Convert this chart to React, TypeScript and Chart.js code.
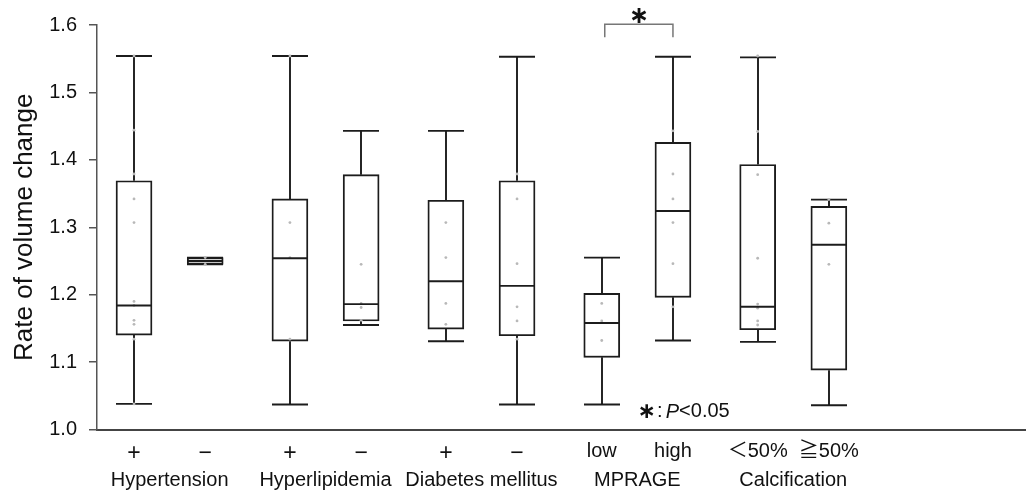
import React, { useEffect, useRef } from 'react';
import { Chart, registerables } from 'chart.js';

Chart.register(...registerables);

// ---- data ----
const groupNames = ['Hypertension', 'Hyperlipidemia', 'Diabetes mellitus', 'MPRAGE', 'Calcification'];
const memberLabels = ['+', '−', '+', '−', '+', '−', 'low', 'high', '＜50%', '≧50%'];
const yTicks = [1.0, 1.1, 1.2, 1.3, 1.4, 1.5, 1.6];

const whiskerMin = [1.038, 1.245, 1.037, 1.155, 1.131, 1.037, 1.037, 1.132, 1.130, 1.036];
const q1 = [1.140, 1.245, 1.131, 1.161, 1.149, 1.139, 1.107, 1.196, 1.148, 1.088];
const median = [1.184, 1.250, 1.254, 1.186, 1.220, 1.213, 1.158, 1.324, 1.182, 1.274];
const q3 = [1.369, 1.255, 1.342, 1.378, 1.340, 1.369, 1.202, 1.426, 1.393, 1.331];
const whiskerMax = [1.554, 1.255, 1.554, 1.443, 1.443, 1.553, 1.255, 1.553, 1.552, 1.341];

const observations = [
  [1.554, 1.444, 1.379, 1.342, 1.307, 1.190, 1.184, 1.162, 1.156, 1.134, 1.038],
  [1.245, 1.255],
  [1.554, 1.307, 1.255, 1.134],
  [1.245, 1.187, 1.181, 1.162],
  [1.307, 1.255, 1.187, 1.156],
  [1.379, 1.342, 1.246, 1.182, 1.161, 1.134],
  [1.187, 1.161, 1.132],
  [1.443, 1.379, 1.342, 1.307, 1.246, 1.182],
  [1.554, 1.442, 1.378, 1.254, 1.186, 1.180, 1.161, 1.155],
  [1.341, 1.306, 1.245],
];

const sigPair = [6, 7];
const sigMark = '∗';
const noteStar = '∗';
const noteColon = ':';
const noteP = 'P';
const noteRest = '<0.05';

// ---- layout helpers (slot positions on the linear x scale) ----
const GROUP_STEP = 2.19;
const FIRST = 0.52;
const X_MAX = 13.035;
const positions = memberLabels.map((_, i) => FIRST + Math.floor(i / 2) * GROUP_STEP + (i % 2));
const groupCenters = groupNames.map((_, g) => FIRST + g * GROUP_STEP + 0.5);

const BOX_W = 36;
const LINE = '#1c1c1c';
const FONT = "'Liberation Sans', 'Noto Sans CJK JP', 'DejaVu Sans', sans-serif";

const boxPlugin = {
  id: 'boxParts',
  beforeDatasetsDraw(chart: any) {
    const { ctx, scales } = chart;
    const x = scales.x, y = scales.y;
    ctx.save();
    ctx.strokeStyle = LINE;
    ctx.lineWidth = 1.9;
    positions.forEach((p, i) => {
      const cx = Math.round(x.getPixelForValue(p));
      const h = BOX_W / 2;
      const yMax = y.getPixelForValue(whiskerMax[i]);
      const yMin = y.getPixelForValue(whiskerMin[i]);
      const yQ1 = y.getPixelForValue(q1[i]);
      const yQ3 = y.getPixelForValue(q3[i]);
      ctx.beginPath();
      ctx.moveTo(cx, yQ3); ctx.lineTo(cx, yMax);
      ctx.moveTo(cx, yQ1); ctx.lineTo(cx, yMin);
      ctx.moveTo(cx - h, yMax); ctx.lineTo(cx + h, yMax);
      ctx.moveTo(cx - h, yMin); ctx.lineTo(cx + h, yMin);
      ctx.stroke();
    });
    ctx.restore();
  },
  afterDatasetsDraw(chart: any) {
    const { ctx, scales } = chart;
    const x = scales.x, y = scales.y;
    ctx.save();
    ctx.strokeStyle = LINE;
    ctx.lineWidth = 1.9;
    positions.forEach((p, i) => {
      const cx = Math.round(x.getPixelForValue(p));
      const h = BOX_W / 2;
      const ym = y.getPixelForValue(median[i]);
      ctx.beginPath();
      ctx.moveTo(cx - h, ym); ctx.lineTo(cx + h, ym);
      ctx.stroke();
    });
    // significance bracket
    const xa = x.getPixelForValue(positions[sigPair[0]]) + 3;
    const xb = x.getPixelForValue(positions[sigPair[1]]);
    const yTop = y.getPixelForValue(1.601);
    const yLeg = y.getPixelForValue(1.582);
    ctx.strokeStyle = '#777';
    ctx.lineWidth = 1.5;
    ctx.beginPath();
    ctx.moveTo(xa, yLeg); ctx.lineTo(xa, yTop); ctx.lineTo(xb, yTop); ctx.lineTo(xb, yLeg);
    ctx.stroke();
    ctx.fillStyle = '#111';
    ctx.textAlign = 'center';
    ctx.textBaseline = 'middle';
    ctx.font = `bold 24px 'DejaVu Sans', sans-serif`;
    ctx.fillText(sigMark, (xa + xb) / 2, y.getPixelForValue(1.612));
    // note  "∗ : P<0.05"
    const nx = x.getPixelForValue(positions[sigPair[0]]) + 38;
    const ny = y.getPixelForValue(1.026);
    ctx.font = `bold 22px 'DejaVu Sans', sans-serif`;
    ctx.fillText(noteStar, nx + 7, ny);
    ctx.font = `20px ${FONT}`;
    ctx.fillText(noteColon, nx + 20, ny);
    ctx.textAlign = 'left';
    ctx.font = `italic 20px ${FONT}`;
    ctx.fillText(noteP, nx + 26, ny);
    const pw = ctx.measureText(noteP).width;
    ctx.font = `20px ${FONT}`;
    ctx.fillText(noteRest, nx + 26 + pw, ny);
    ctx.restore();
  },
};

export default function App() {
  const ref = useRef<HTMLCanvasElement | null>(null);
  useEffect(() => {
    if (!ref.current) return;
    Chart.defaults.font.family = FONT;
    const dots: any[] = [];
    observations.forEach((arr, i) => arr.forEach((v) => dots.push({ x: positions[i], y: v })));
    const chart = new Chart(ref.current, {
      type: 'bar',
      data: {
        datasets: [
          {
            type: 'scatter',
            data: dots,
            pointRadius: 1.4,
            pointBackgroundColor: '#b8b8b8',
            pointBorderWidth: 0,
            order: 0,
          } as any,
          {
            type: 'bar',
            data: positions.map((p, i) => ({ x: p, y: [q1[i], q3[i]] })),
            backgroundColor: '#ffffff',
            borderColor: LINE,
            borderWidth: 1.9,
            borderSkipped: false,
            barThickness: BOX_W,
            grouped: false,
            order: 1,
          } as any,
        ],
      },
      options: {
        animation: false,
        responsive: false,
        events: [],
        layout: { padding: { top: 25, left: 0, right: 0, bottom: 0 } },
        plugins: { legend: { display: false }, tooltip: { enabled: false } },
        scales: {
          x: {
            type: 'linear',
            position: 'bottom',
            min: 0,
            max: X_MAX,
            offset: false,
            weight: 0,
            grid: { display: false, drawTicks: false },
            border: { display: true, color: '#444', width: 2 },
            afterBuildTicks: (s: any) => { s.ticks = positions.map((v) => ({ value: v })); },
            afterFit: (s: any) => { s.height = 34; },
            ticks: {
              autoSkip: false,
              maxRotation: 0,
              padding: 10,
              color: '#111',
              font: (c: any) => ({ size: c.index < 6 ? 23 : 20 }),
              callback: (_v: any, i: number) => memberLabels[i],
            },
          },
          xg: {
            type: 'linear',
            position: 'bottom',
            min: 0,
            max: X_MAX,
            offset: false,
            weight: 1,
            grid: { display: false, drawTicks: false },
            border: { display: false },
            afterBuildTicks: (s: any) => { s.ticks = groupCenters.map((v) => ({ value: v })); },
            afterFit: (s: any) => { s.height = 31.5; },
            ticks: {
              autoSkip: false,
              maxRotation: 0,
              padding: 5,
              color: '#111',
              font: { size: 20 },
              callback: (_v: any, i: number) => groupNames[i],
            },
          },
          y: {
            type: 'linear',
            min: 1.0,
            max: 1.6,
            afterBuildTicks: (s: any) => { s.ticks = yTicks.map((v) => ({ value: v })); },
            afterFit: (s: any) => { s.width = 97; },
            grid: { display: true, drawOnChartArea: false, drawTicks: true, tickLength: 8, color: '#555', lineWidth: 1.5 },
            border: { display: true, color: '#555', width: 1.5 },
            ticks: {
              padding: 12,
              color: '#111',
              font: { size: 20 },
              callback: (v: any) => Number(v).toFixed(1),
            },
            title: {
              display: true,
              text: 'Rate of volume change',
              color: '#111',
              font: { size: 26 },
              padding: { top: 9, bottom: 0 },
            },
          },
        },
      },
      plugins: [boxPlugin],
    } as any);
    return () => chart.destroy();
  }, []);
  return (
    <div style={{ position: 'fixed', left: 0, top: 0, width: 1029, height: 495, background: '#fff' }}>
      <canvas ref={ref} width={1029} height={495} style={{ display: 'block' }} />
    </div>
  );
}
